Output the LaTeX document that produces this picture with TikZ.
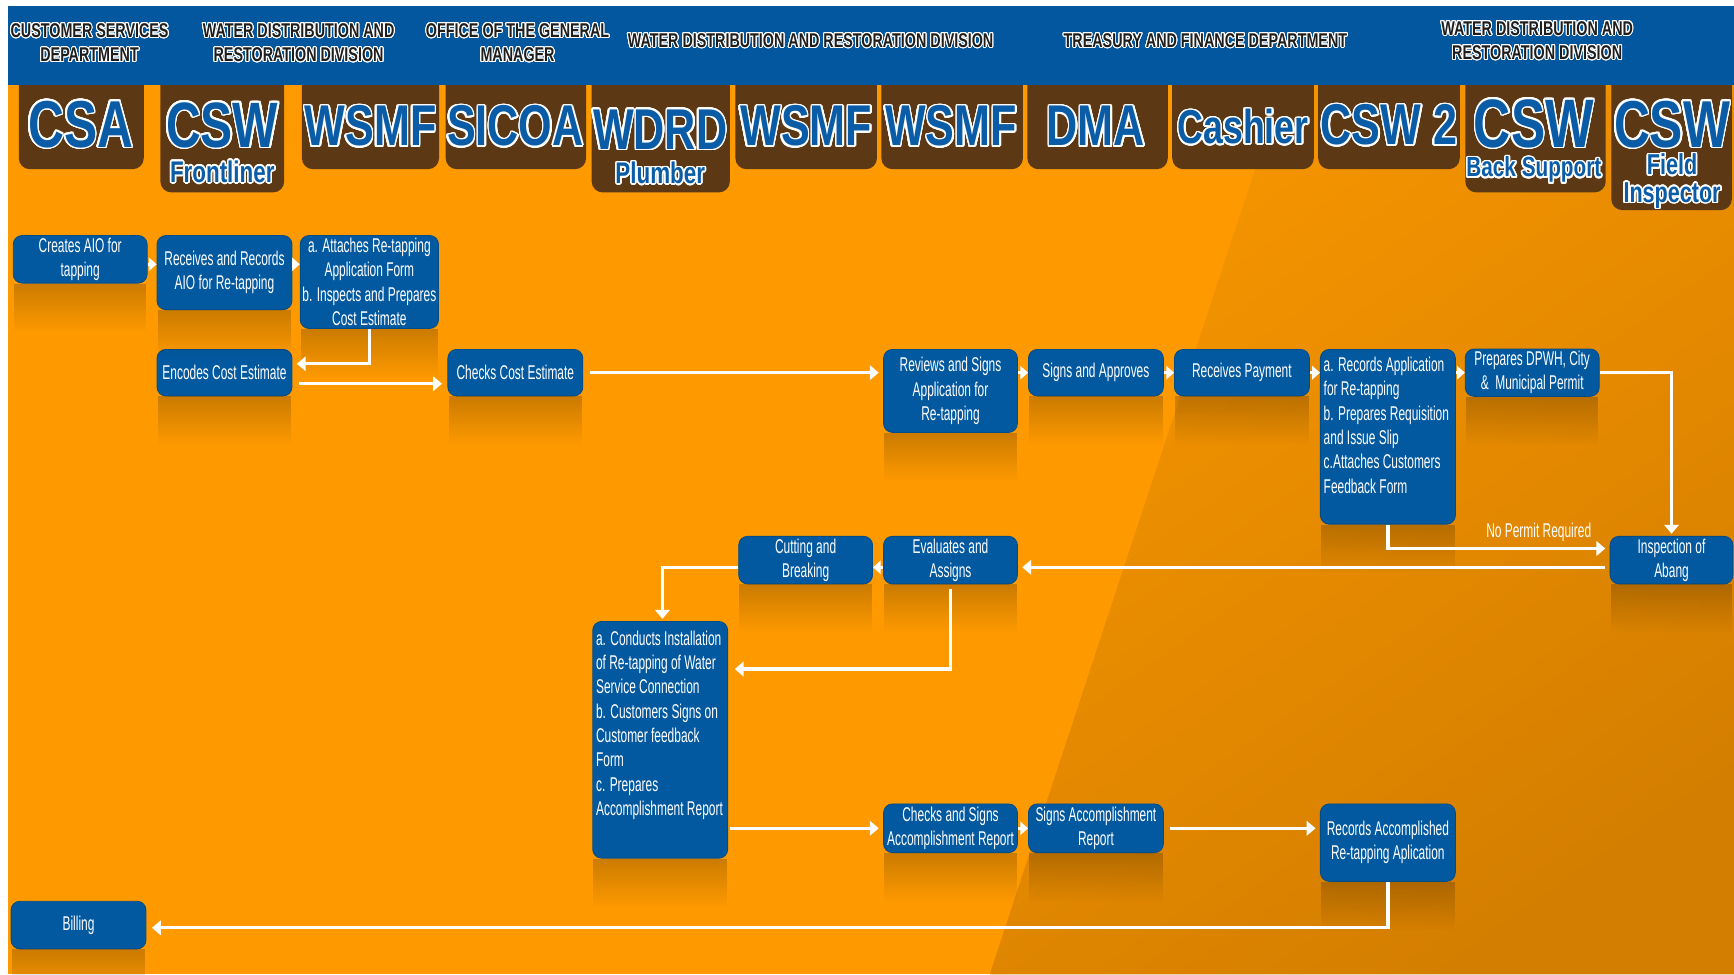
\documentclass[tikz,border=0pt]{standalone}
\usepackage{fontspec}
\usepackage{contour}
\usetikzlibrary{arrows.meta,fadings,calc}
\newfontfamily\boxfont{Liberation Sans}[FakeStretch=0.6]
\newfontfamily\hdfont{Liberation Sans}[FakeStretch=0.72]
\newfontfamily\lblfont{Liberation Sans}[FakeStretch=0.75]
\definecolor{bgor}{HTML}{FE9A00}
\definecolor{bgdkA}{HTML}{F69500}
\definecolor{bgdkB}{HTML}{D47E00}
\definecolor{hdblue}{HTML}{02579E}
\definecolor{boxblue}{HTML}{03599F}
\definecolor{tabbrown}{HTML}{5C3814}
\definecolor{lblblue}{HTML}{0B5CA6}
\definecolor{hdtext}{HTML}{1E1E1E}
\contournumber{24}
\tikzset{
  box/.style={rectangle, rounded corners=4pt, fill=boxblue, draw=boxblue!85!black,
    line width=0.4pt, text=white, align=center, inner sep=1pt,
    font=\boxfont\fontsize{9}{11}\selectfont},
  hdr/.style={text=hdtext, align=center, inner sep=0pt,
    font=\hdfont\bfseries\fontsize{9}{11}\selectfont},
  lbl/.style={text=lblblue, anchor=base, inner sep=0pt},
  refl/.style={black, opacity=0.2, path fading=south},
  arr/.style={white, line width=1.5pt, shorten <=2pt, shorten >=2pt,
    -{Triangle[length=4pt,width=6.5pt]}},
  sarr/.style={white, line width=1.5pt, -{Triangle[length=3.5pt,width=6pt]}},
}
\newcommand\tablbl[2]{\lblfont\bfseries\fontsize{#1}{#1}\selectfont\contourlength{0.7pt}\contour{white}{#2}}
\newcommand\hdtxt[1]{\contourlength{0.45pt}\contour{white}{#1}}
\begin{document}
\begin{tikzpicture}[x=0.5pt,y=-0.5pt]
\useasboundingbox (0,0) rectangle (1568,881);
% background
\fill[white] (0,0) rectangle (1568,881);
\fill[bgor] (7,5) rectangle (1568,881);
\shade[top color=bgdkA, bottom color=bgdkB, shading angle=35] (1160,77) -- (1568,77) -- (1568,881) -- (895,881) -- cycle;
% tabs
\foreach \a/\b/\c in {17/130/153, 145/257/174, 273/397/153, 403/530/153, 535/660/174,
  665/793/153, 797/925/153, 929/1056/153, 1060/1188/153, 1192/1320/153, 1325/1452/174, 1457/1566/190}
  \fill[tabbrown, rounded corners=5pt] (\a,50) rectangle (\b,\c);
% header band
\fill[hdblue] (7,5) rectangle (1568,77);
\node[hdr] (h1) at (81,39) {\hdtxt{CUSTOMER SERVICES}\\\hdtxt{DEPARTMENT}};
\node[hdr] (h2) at (270,39) {\hdtxt{WATER DISTRIBUTION AND}\\\hdtxt{RESTORATION DIVISION}};
\node[hdr] (h3) at (468,39) {\hdtxt{OFFICE OF THE GENERAL}\\\hdtxt{MANAGER}};
\node[hdr] (h4) at (733,37) {\hdtxt{WATER DISTRIBUTION AND RESTORATION DIVISION}};
\node[hdr] (h5) at (1090,37) {\hdtxt{TREASURY AND FINANCE DEPARTMENT}};
\node[hdr] (h6) at (1390,37) {\hdtxt{WATER DISTRIBUTION AND}\\\hdtxt{RESTORATION DIVISION}};
% tab labels
\node[lbl] (l1) at (73,133) {\tablbl{30}{CSA}};
\node[lbl] (l2) at (201,133) {\tablbl{29}{CSW}};
\node[lbl] (l2s) at (201,165) {\tablbl{13.5}{Frontliner}};
\node[lbl] (l3) at (335,132) {\tablbl{26}{WSMF}};
\node[lbl] (l4) at (466,132) {\tablbl{26}{SICOA}};
\node[lbl] (l5) at (597,135) {\tablbl{26}{WDRD}};
\node[lbl] (l5s) at (597,166) {\tablbl{13.5}{Plumber}};
\node[lbl] (l6) at (729,132) {\tablbl{26}{WSMF}};
\node[lbl] (l7) at (860,132) {\tablbl{26}{WSMF}};
\node[lbl] (l8) at (991,132) {\tablbl{26}{DMA}};
\node[lbl] (l9) at (1124,130) {\tablbl{21.5}{Cashier}};
\node[lbl] (l10) at (1256,131) {\tablbl{26}{CSW 2}};
\node[lbl] (l11) at (1387,133) {\tablbl{31}{CSW}};
\node[lbl] (l11s) at (1387,160) {\tablbl{12.5}{Back Support}};
\node[lbl] (l12) at (1512,133) {\tablbl{30}{CSW}};
\node[lbl] (l12s) at (1512,158) {\tablbl{13}{Field}};
\node[lbl] (l12t) at (1512,183) {\tablbl{13}{Inspector}};
% process boxes
\node[box, minimum width=60.5pt, minimum height=21.5pt] (cr) at (72.5,234.5) {Creates AIO for\\tapping};
\node[box, minimum width=61pt, minimum height=33.5pt] (rr) at (203,246.5) {Receives and Records\\AIO for Re-tapping};
\node[box, minimum width=61pt, minimum height=42pt] (at) at (334,255) {a. Attaches Re-tapping\\Application Form\\b. Inspects and Prepares\\Cost Estimate};
\node[box, minimum width=61pt, minimum height=21pt] (en) at (203,337) {Encodes Cost Estimate};
\node[box, minimum width=61pt, minimum height=21pt] (cc) at (466,337) {Checks Cost Estimate};
\node[box, minimum width=60.5pt, minimum height=37.5pt] (rs) at (859.5,353.5) {Reviews and Signs\\Application for\\Re-tapping};
\node[box, minimum width=61pt, minimum height=21pt] (sa) at (991,337) {Signs and Approves};
\node[box, minimum width=61pt, minimum height=21pt] (rp) at (1123,337) {Receives Payment};
\node[box, minimum width=61pt, minimum height=79pt, inner sep=0pt] (ra) at (1255,395)
  {\parbox[c][75pt][t]{58pt}{\raggedright\vspace*{1.5pt}a. Records Application\\for Re-tapping\\b. Prepares Requisition\\and Issue Slip\\c.Attaches Customers\\Feedback Form}};
\node[box, minimum width=60.5pt, minimum height=21pt] (pd) at (1385.5,337) {Prepares DPWH, City\\\&\ \ Municipal Permit};
\node[box, minimum width=55.5pt, minimum height=21.5pt] (ia) at (1511.5,506.5) {Inspection of\\Abang};
\node[box, minimum width=60.5pt, minimum height=21.5pt] (ea) at (859.5,506.5) {Evaluates and\\Assigns};
\node[box, minimum width=60.5pt, minimum height=21.5pt] (cb) at (728.5,506.5) {Cutting and\\Breaking};
\node[box, minimum width=61pt, minimum height=107pt, inner sep=0pt] (ci) at (597,669)
  {\parbox[c][103pt][t]{58pt}{\raggedright\vspace*{2.2pt}a. Conducts Installation\\of Re-tapping of Water\\Service Connection\\b. Customers Signs on\\Customer feedback\\Form\\c. Prepares\\Accomplishment Report}};
\node[box, minimum width=60.5pt, minimum height=22pt] (cs) at (859.5,749) {Checks and Signs\\Accomplishment Report};
\node[box, minimum width=61pt, minimum height=22pt] (sr) at (991,749) {Signs Accomplishment\\Report};
\node[box, minimum width=61pt, minimum height=35pt] (rc) at (1255,762) {Records Accomplished\\Re-tapping Aplication};
\node[box, minimum width=61pt, minimum height=21.5pt] (bi) at (71,836.5) {Billing};
% reflections under boxes
\foreach \n in {cr,rr,at,en,cc,rs,sa,rp,ra,pd,ia,ea,cb,ci,cs,sr,rc,bi}
  \fill[refl] ([xshift=0.5pt]\n.south west) rectangle ([xshift=-0.5pt,yshift=-22pt]\n.south east);
% connectors
\coordinate (r1) at (0,239);
\draw[sarr] (cr.east |- r1) -- (rr.west |- r1);
\draw[sarr] (rr.east |- r1) -- (at.west |- r1);
\draw[arr, shorten <=0pt] (at.south) |- ([yshift=4pt]en.east);
\draw[arr, shorten <=3pt, shorten >=2.5pt] ([yshift=-5pt]en.east) -- ([yshift=-5pt]en.east -| cc.west);
\draw[arr, shorten <=3pt] (cc.east) -- (cc.east -| rs.west);
\draw[sarr] (rs.east |- sa.west) -- (sa.west);
\draw[sarr] (sa.east) -- (rp.west);
\draw[sarr] (rp.east) -- (rp.east -| ra.west);
\draw[sarr] (ra.east |- pd.west) -- (pd.west);
\draw[arr, shorten <=0pt, shorten >=1pt] (pd.east) -| (ia.north);
\draw[arr, shorten <=0pt] (ra.south) |- ([yshift=5.25pt]ia.west)
  node[pos=0.84, above=-1pt, font=\boxfont\fontsize{9}{11}\selectfont, text=white] (npr) {No Permit Required};
\draw[arr] ([yshift=-3.25pt]ia.west) -- ([yshift=-3.25pt]ia.west -| ea.east);
\draw[sarr] ([yshift=-3.25pt]ea.west) -- ([yshift=-3.25pt]ea.west -| cb.east);
\draw[arr, shorten <=0pt, shorten >=1pt] ([yshift=-3.25pt]cb.west) -| ([xshift=1pt]ci.north);
\draw[arr, shorten <=2pt, shorten >=3pt] (ea.south) |- ([yshift=32pt]ci.east);
\draw[arr, shorten <=1pt] (ci.east |- cs.west) -- (cs.west);
\draw[sarr] (cs.east) -- (sr.west);
\draw[arr, shorten <=3pt] (sr.east) -- (sr.east -| rc.west);
\draw[arr, shorten <=0pt, shorten >=2.5pt] (rc.south) |- ([yshift=-1.25pt]bi.east);
\end{tikzpicture}
\end{document}
